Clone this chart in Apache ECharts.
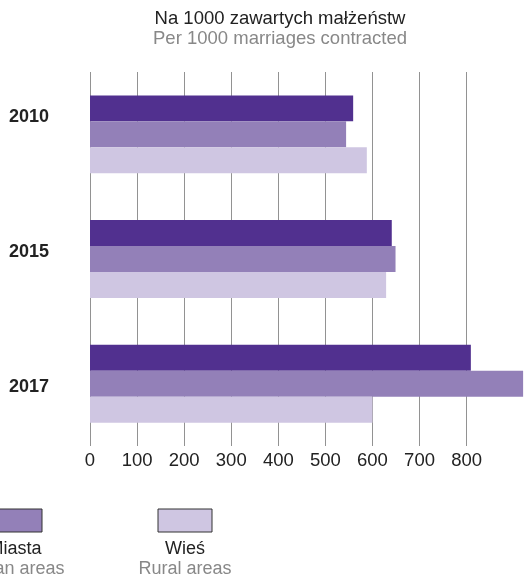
<!DOCTYPE html>
<html>
<head>
<meta charset="utf-8">
<script src="https://cdn.jsdelivr.net/npm/echarts@6/dist/echarts.min.js"></script>
<style>
  html, body { margin: 0; padding: 0; background: #fff; }
  #chart { width: 527px; height: 576px; }
</style>
</head>
<body>
<div id="chart"></div>
<script>
// Years shown on the category axis
const years = ['2010', '2015', '2017'];

// Series names (Polish / English)
const namesPl = ['Ogółem', 'Miasta', 'Wieś'];
const namesEn = ['Total', 'Urban areas', 'Rural areas'];

// Values per 1000 marriages contracted
const totalValues = [559, 641, 809];
const urbanValues = [544, 649, 920];
const ruralValues = [588, 629, 600];

// Value axis range and step
const axisMax = 900;
const axisStep = 100;

const colors = ['#51308f', '#9380b8', '#cfc6e2'];
const font = "'Liberation Sans', Arial, sans-serif";
const seriesValues = [totalValues, urbanValues, ruralValues];

// Legend entries: swatch with two-line caption beneath
const legendCenters = [-155, 15, 185];
const legendGraphics = [];
namesPl.forEach((name, i) => {
  const cx = legendCenters[i];
  legendGraphics.push({
    type: 'rect',
    shape: { x: cx - 27, y: 509, width: 54, height: 23 },
    style: { fill: colors[i], stroke: '#333', lineWidth: 1 }
  });
  legendGraphics.push({
    type: 'text', x: cx, y: 549,
    style: { text: name, fill: '#222', font: '18px ' + font, align: 'center', verticalAlign: 'middle' }
  });
  legendGraphics.push({
    type: 'text', x: cx, y: 569,
    style: { text: namesEn[i], fill: '#888', font: '18px ' + font, align: 'center', verticalAlign: 'middle' }
  });
});

const chart = echarts.init(document.getElementById('chart'));
chart.setOption({
  animation: false,
  textStyle: { fontFamily: font },
  title: {
    text: 'Na 1000 zawartych małżeństw',
    subtext: 'Per 1000 marriages contracted',
    left: 280, top: 9, textAlign: 'center', itemGap: 0, padding: 0,
    textStyle: { fontSize: 18.5, fontWeight: 'normal', color: '#222', lineHeight: 20, fontFamily: font },
    subtextStyle: { fontSize: 18.5, color: '#888', lineHeight: 20, fontFamily: font }
  },
  grid: [
    { left: 90, top: 72, height: 374, width: 423.7 },
    { left: 90, top: 49.5, height: 405, width: 423.7 }
  ],
  xAxis: [
    {
      gridIndex: 0, type: 'value', min: 0, max: axisMax, interval: axisStep,
      axisLine: { show: false }, axisTick: { show: false },
      axisLabel: { showMaxLabel: false, fontSize: 18.5, color: '#222', margin: 5, fontFamily: font },
      splitLine: { show: true, showMaxLine: false, lineStyle: { color: '#929292', width: 1 } }
    },
    { gridIndex: 1, type: 'value', min: 0, max: axisMax, show: false }
  ],
  yAxis: [
    {
      gridIndex: 0, type: 'category', data: years, inverse: true,
      axisLine: { show: false }, axisTick: { show: false }, axisLabel: { show: false }
    },
    {
      gridIndex: 1, type: 'category', data: years, inverse: true,
      axisLine: { show: false }, axisTick: { show: false },
      axisLabel: { align: 'left', margin: 81, fontSize: 18, fontWeight: 'bold', color: '#222', fontFamily: font }
    }
  ],
  series: seriesValues.map((vals, i) => ({
    name: namesPl[i],
    type: 'bar',
    xAxisIndex: 0, yAxisIndex: 0,
    data: vals,
    clip: false,
    barGap: '0%',
    barCategoryGap: '37.5%',
    itemStyle: { color: colors[i] }
  })),
  graphic: legendGraphics
});
</script>
</body>
</html>
